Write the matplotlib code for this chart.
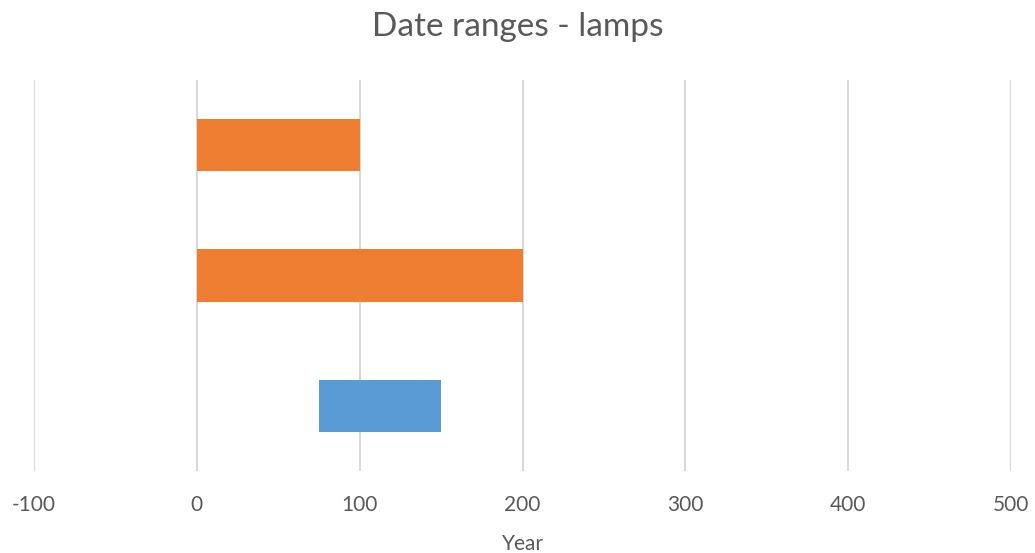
import matplotlib
matplotlib.use("Agg")
import matplotlib.pyplot as plt

# Date ranges for each lamp, listed bottom to top
starts = [75, 0, 0]
ends = [150, 200, 100]
colors = ["#5B9BD5", "#ED7D31", "#ED7D31"]
x_ticks = [-100, 0, 100, 200, 300, 400, 500]

plt.rcParams["font.family"] = ["Lato", "DejaVu Sans"]
plt.rcParams["axes.unicode_minus"] = False
text_color = "#595959"

W, H = 1035, 553
fig = plt.figure(figsize=(W / 100, H / 100), dpi=100)
ax = fig.add_axes([34 / W, (H - 471) / H, (1011 - 34) / W, (471 - 80) / H])

positions = list(range(len(starts)))
widths = [e - s for s, e in zip(starts, ends)]
ax.barh(positions, widths, left=starts, height=0.4, color=colors, zorder=3)

ax.set_xlim(x_ticks[0], x_ticks[-1])
ax.set_ylim(-0.5, len(starts) - 0.5)
ax.set_xticks(x_ticks)
ax.set_yticks([])
ax.grid(axis="x", color="#D9D9D9", linewidth=1.5, zorder=0)
for s in ax.spines.values():
    s.set_visible(False)
ax.tick_params(axis="x", length=0, pad=17, labelsize=15, labelcolor=text_color)

ax.set_xlabel("Year", fontsize=15, color=text_color, labelpad=14)
fig.text(0.5, (H - 27) / H, "Date ranges - lamps", ha="center", va="center",
         fontsize=24, color=text_color)

fig.savefig("out.png", dpi=100)
